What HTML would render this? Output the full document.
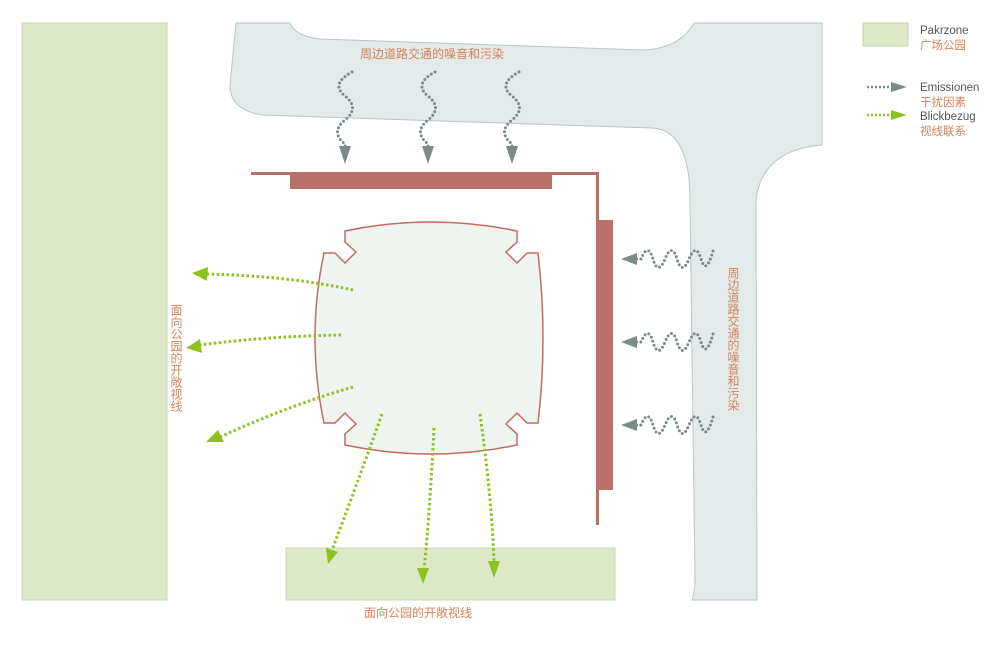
<!DOCTYPE html>
<html><head><meta charset="utf-8"><style>
html,body{margin:0;padding:0;background:#fff;}
svg{display:block}
text{font-family:"Liberation Sans","Noto Sans CJK SC",sans-serif;}
</style></head><body>
<svg width="1000" height="646" viewBox="0 0 1000 646" xmlns="http://www.w3.org/2000/svg">
<!-- road -->
<path d="M236,23 L290,23 Q295,36 320,39 L644,50 Q680,48 694,23 L822,23 L822,145 Q762,150 756,200 L757,600 L692,600 Q695,590 695,580 L690,200 Q690,130 652,128 L262,115 Q230,110 230,85 Z" fill="#e4eae9" stroke="#b9c6c4" stroke-width="1"/>
<!-- parks -->
<rect x="22" y="23" width="145" height="577" fill="#dde8c6" stroke="#cbd7b8"/>
<rect x="286" y="548" width="329" height="52" fill="#dde8c6" stroke="#cbd7b8"/>
<!-- building walls -->
<rect x="251" y="172" width="348" height="3" fill="#b87068"/>
<rect x="290" y="172" width="262" height="17" fill="#b87068"/>
<rect x="596" y="172" width="3" height="353" fill="#b87068"/>
<rect x="597" y="220" width="16" height="270" fill="#b87068"/>
<!-- building -->
<path d="M345,231 Q431,213 517,231 L517,242 L506,252 L517,263 L527,253 L538,253 Q548,338 538,423 L527,423 L517,413 L506,424 L517,434 L517,445 Q431,463 345,445 L345,434 L356,424 L345,413 L335,423 L324,423 Q306,338 324,253 L335,253 L345,263 L356,252 L345,242 Z" fill="#eff4f1" stroke="#c06c62" stroke-width="1.5"/>
<!-- emission waves -->
<g fill="none" stroke="#7a8b8a" stroke-width="3" stroke-linecap="round" stroke-dasharray="0 4.2">
<path d="M352,72 Q330,84 345,96 T345,120 T345,144 L345,150"/>
<path d="M435,72 Q413,84 428,96 T428,120 T428,144 L428,150"/>
<path d="M519,72 Q497,84 512,96 T512,120 T512,144 L512,150"/>
<path d="M713,251 Q706,276 701,259 T689,259 T677,259 T665,259 T653,259 T641,259 L636,259"/>
<path d="M713,334 Q706,359 701,342 T689,342 T677,342 T665,342 T653,342 T641,342 L636,342"/>
<path d="M713,417 Q706,442 701,425 T689,425 T677,425 T665,425 T653,425 T641,425 L636,425"/>
</g>
<g fill="#7a8b8a">
<path d="M339,146 L351,146 L345,164 Z"/>
<path d="M422,146 L434,146 L428,164 Z"/>
<path d="M506,146 L518,146 L512,164 Z"/>
<path d="M637,253 L637,265 L621,259 Z"/>
<path d="M637,336 L637,348 L621,342 Z"/>
<path d="M637,419 L637,431 L621,425 Z"/>
</g>
<!-- green view arrows -->
<g fill="none" stroke="#8dc21f" stroke-width="3" stroke-dasharray="2.5 2.5">
<path d="M353,290 Q290,276 206,274"/>
<path d="M341,335 Q270,336 200,345"/>
<path d="M353,387 Q290,405 220,437"/>
<path d="M382,414 Q355,490 332,550"/>
<path d="M434,428 Q430,510 424,570"/>
<path d="M480,414 Q492,500 494,563"/>
</g>
<g fill="#8dc21f">
<path d="M208,267 L207,281 L192,273 Z"/>
<path d="M200,339 L202,353 L186,348 Z"/>
<path d="M218,430 L224,442 L206,442 Z"/>
<path d="M326,548 L338,552 L328,564 Z"/>
<path d="M417,568 L429,568 L423,584 Z"/>
<path d="M488,561 L500,561 L494,578 Z"/>
</g>
<!-- labels -->
<text x="432" y="58" font-size="12" fill="#d5825a" text-anchor="middle">周边道路交通的噪音和污染</text>
<text x="418" y="617" font-size="12" fill="#d5825a" text-anchor="middle">面向公园的开敞视线</text>
<text x="733" y="267" font-size="12" fill="#d5825a" style="writing-mode:tb">周边道路交通的噪音和污染</text>
<text x="176" y="304" font-size="12" fill="#d5825a" style="writing-mode:tb">面向公园的开敞视线</text>
<!-- legend -->
<rect x="863" y="23" width="45" height="23" fill="#dde8c6" stroke="#c3d2ad"/>
<text x="920" y="34" font-size="11.5" fill="#555">Pakrzone</text>
<text x="920" y="49" font-size="11.5" fill="#d5825a">广场公园</text>
<line x1="867" y1="87" x2="892" y2="87" stroke="#7a8b8a" stroke-width="2.5" stroke-dasharray="2 2"/>
<path d="M891,82 L907,87 L891,92 Z" fill="#7a8b8a"/>
<text x="920" y="91" font-size="11.5" fill="#555">Emissionen</text>
<text x="920" y="106" font-size="11.5" fill="#d5825a">干扰因素</text>
<line x1="867" y1="115" x2="892" y2="115" stroke="#8dc21f" stroke-width="2.5" stroke-dasharray="2 2"/>
<path d="M891,110 L907,115 L891,120 Z" fill="#8dc21f"/>
<text x="920" y="120" font-size="11.5" fill="#555">Blickbezug</text>
<text x="920" y="135" font-size="11.5" fill="#d5825a">视线联系</text>
</svg>
</body></html>
